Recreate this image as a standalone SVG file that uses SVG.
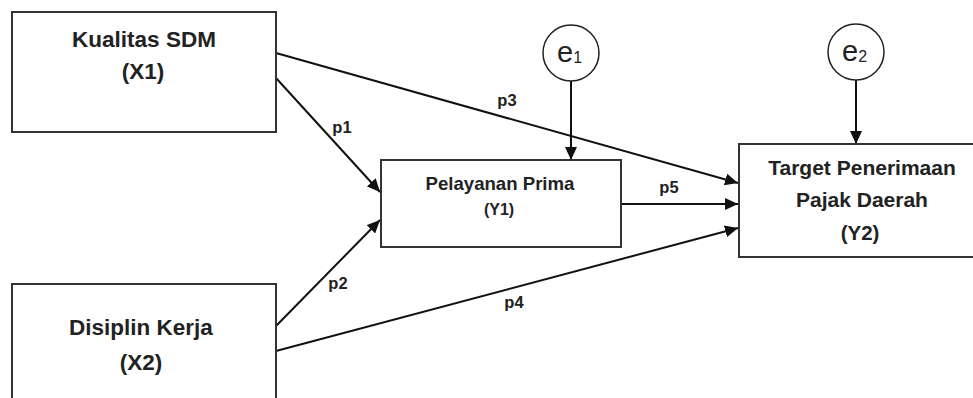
<svg xmlns="http://www.w3.org/2000/svg" width="973" height="398" viewBox="0 0 973 398">
<defs>
<style>
.box{fill:#fff;stroke:#333;stroke-width:2}
.err{fill:#fff;stroke:#222;stroke-width:1.5}
.t{font-family:"Liberation Sans",Arial,sans-serif;font-weight:bold;fill:#222;text-anchor:middle}
.lbl{font-family:"Liberation Sans",Arial,sans-serif;font-weight:bold;fill:#222;font-size:16.5px;text-anchor:middle}
.e{font-family:"Liberation Sans",Arial,sans-serif;fill:#222;font-size:29px}
.c{stroke:#111;stroke-width:2;fill:none;marker-end:url(#ah)}
</style>
<marker id="ah" markerUnits="userSpaceOnUse" markerWidth="14" markerHeight="12" refX="13" refY="6" orient="auto">
<path d="M0,0 L13,6 L0,12 Z" fill="#111"/>
</marker>
</defs>
<g id="connectors">
<line class="c" x1="276" y1="53" x2="738" y2="183"/>
<line class="c" x1="276" y1="78" x2="380" y2="192"/>
<line class="c" x1="276" y1="326" x2="380" y2="220"/>
<line class="c" x1="276" y1="351" x2="738" y2="228"/>
<line class="c" x1="621" y1="204" x2="738" y2="204"/>
<line class="c" x1="571" y1="81" x2="571" y2="160"/>
<line class="c" x1="856" y1="80" x2="856" y2="144"/>
<text class="lbl" x="342" y="133">p1</text>
<text class="lbl" x="338" y="289">p2</text>
<text class="lbl" x="507" y="106">p3</text>
<text class="lbl" x="514" y="308">p4</text>
<text class="lbl" x="669" y="193">p5</text>
</g>
<g id="x1">
<rect class="box" x="12" y="12" width="264" height="120"/>
<text class="t" x="144" y="47" font-size="22.5">Kualitas SDM</text>
<text class="t" x="143" y="79" font-size="22.5">(X1)</text>
</g>
<g id="x2">
<rect class="box" x="12" y="284" width="264" height="130"/>
<text class="t" x="141" y="335" font-size="22.5">Disiplin Kerja</text>
<text class="t" x="141" y="370" font-size="22.5">(X2)</text>
</g>
<g id="y1">
<rect class="box" x="381" y="160" width="240" height="87"/>
<text class="t" x="500" y="190" font-size="18.6">Pelayanan Prima</text>
<text class="t" x="499" y="215" font-size="16">(Y1)</text>
</g>
<g id="y2">
<rect class="box" x="739" y="144" width="250" height="113"/>
<text class="t" x="862" y="175" font-size="21">Target Penerimaan</text>
<text class="t" x="862" y="207" font-size="21">Pajak Daerah</text>
<text class="t" x="860" y="240" font-size="20.5">(Y2)</text>
</g>
<g id="e1">
<circle class="err" cx="571" cy="53" r="28"/>
<text class="e" x="557" y="62">e<tspan font-size="16" dy="1">1</tspan></text>
</g>
<g id="e2">
<circle class="err" cx="856" cy="52" r="28"/>
<text class="e" x="842" y="61">e<tspan font-size="16" dy="1">2</tspan></text>
</g>
</svg>
